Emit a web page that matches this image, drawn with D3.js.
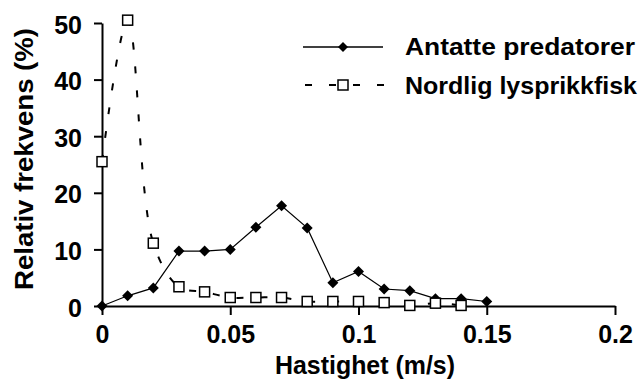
<!DOCTYPE html>
<html>
<head>
<meta charset="utf-8">
<script src="https://cdn.jsdelivr.net/npm/d3@7/dist/d3.min.js"></script>
<style>
  html, body { margin: 0; padding: 0; background: #fff; }
  svg { display: block; }
  text { font-family: "Liberation Sans", Arial, sans-serif; font-weight: bold; fill: #000; }
</style>
</head>
<body>
<svg id="chart" width="639" height="381"></svg>
<script>
// Speed bins (m/s)
const predatorSpeeds = [0, 0.01, 0.02, 0.03, 0.04, 0.05, 0.06, 0.07, 0.08, 0.09, 0.10, 0.11, 0.12, 0.13, 0.14, 0.15];
const fishSpeeds     = [0, 0.01, 0.02, 0.03, 0.04, 0.05, 0.06, 0.07, 0.08, 0.09, 0.10, 0.11, 0.12, 0.13, 0.14];

// Relative frequency (%)
const predatorFreq = [0, 1.8, 3.2, 9.7, 9.7, 10.0, 13.9, 17.7, 13.8, 4.1, 6.1, 3.0, 2.7, 1.3, 1.3, 0.8];
const fishFreq     = [25.5, 50.5, 11.1, 3.4, 2.5, 1.5, 1.5, 1.5, 0.8, 0.8, 0.8, 0.6, 0.1, 0.5, 0.1];

const seriesNames = ["Antatte predatorer", "Nordlig lysprikkfisk"];
const xTicks = [0, 0.05, 0.1, 0.15, 0.2];
const xTickLabels = ["0", "0.05", "0.1", "0.15", "0.2"];
const yTicks = [0, 10, 20, 30, 40, 50];
const xTitle = "Hastighet (m/s)";
const yTitle = "Relativ frekvens (%)";

const svg = d3.select("#chart");

const x = d3.scaleLinear().domain([0, 0.2]).range([102, 615]);
const y = d3.scaleLinear().domain([0, 50]).range([306, 23]);

// Axes
const xAxis = d3.axisBottom(x).tickValues(xTicks).tickFormat((d, i) => xTickLabels[i])
  .tickSize(9).tickSizeOuter(0).tickPadding(10);
const yAxis = d3.axisLeft(y).tickValues(yTicks).tickFormat(d3.format("d"))
  .tickSize(8).tickSizeOuter(0).tickPadding(12);

const gx = svg.append("g").attr("transform", `translate(0,${y(0)})`).call(xAxis);
const gy = svg.append("g").attr("transform", `translate(${x(0)},0)`).call(yAxis);

[gx, gy].forEach(g => {
  g.select(".domain").attr("stroke", "#000").attr("stroke-width", 2);
  g.selectAll(".tick line").attr("stroke", "#000").attr("stroke-width", 2);
  g.selectAll(".tick text")
    .style("font-family", '"Liberation Sans", Arial, sans-serif')
    .style("font-weight", "bold")
    .attr("font-size", 25)
    .attr("fill", "#000");
});
gx.selectAll(".tick text").attr("dy", null).attr("y", 37);
gy.selectAll(".tick text").attr("dy", "10");

// Axis titles
svg.append("text")
  .attr("x", 365).attr("y", 374)
  .attr("text-anchor", "middle")
  .attr("font-size", 25)
  .attr("textLength", 180).attr("lengthAdjust", "spacingAndGlyphs")
  .text(xTitle);

svg.append("text")
  .attr("transform", "translate(33,159) rotate(-90)")
  .attr("text-anchor", "middle")
  .attr("font-size", 25)
  .attr("textLength", 262).attr("lengthAdjust", "spacingAndGlyphs")
  .text(yTitle);

const predatorData = predatorSpeeds.map((s, i) => ({ s, v: predatorFreq[i] }));
const fishData = fishSpeeds.map((s, i) => ({ s, v: fishFreq[i] }));

const diamond = r => `M0,${-r}L${r},0L0,${r}L${-r},0Z`;

// Predator series: straight segments with filled diamonds
const straight = d3.line().x(d => x(d.s)).y(d => y(d.v));
svg.append("path")
  .datum(predatorData)
  .attr("d", straight)
  .attr("fill", "none")
  .attr("stroke", "#000")
  .attr("stroke-width", 1.2);

svg.append("g").selectAll("path")
  .data(predatorData)
  .join("path")
  .attr("transform", d => `translate(${x(d.s)},${y(d.v)})`)
  .attr("d", diamond(5.5))
  .attr("fill", "#000");

// Fish series: smoothed dashed line with open squares
const smooth = d3.line().x(d => x(d.s)).y(d => y(d.v)).curve(d3.curveCatmullRom.alpha(0.5));
svg.append("path")
  .datum(fishData)
  .attr("d", smooth)
  .attr("fill", "none")
  .attr("stroke", "#000")
  .attr("stroke-width", 2)
  .attr("stroke-dasharray", "7,17");

svg.append("g").selectAll("rect")
  .data(fishData)
  .join("rect")
  .attr("x", d => x(d.s) - 5)
  .attr("y", d => y(d.v) - 5)
  .attr("width", 10).attr("height", 10)
  .attr("fill", "#fff")
  .attr("stroke", "#000")
  .attr("stroke-width", 1.5);

// Legend
const legend = svg.append("g");
legend.append("line")
  .attr("x1", 303).attr("x2", 383).attr("y1", 47).attr("y2", 47)
  .attr("stroke", "#000").attr("stroke-width", 1.5);
legend.append("path")
  .attr("transform", "translate(343,47)")
  .attr("d", diamond(5))
  .attr("fill", "#000");
legend.append("text")
  .attr("x", 405).attr("y", 55)
  .attr("font-size", 24)
  .attr("textLength", 230).attr("lengthAdjust", "spacingAndGlyphs")
  .text(seriesNames[0]);

legend.append("line")
  .attr("x1", 305).attr("x2", 387).attr("y1", 85).attr("y2", 85)
  .attr("stroke", "#000").attr("stroke-width", 2)
  .attr("stroke-dasharray", "7,17");
legend.append("rect")
  .attr("x", 338).attr("y", 80).attr("width", 10).attr("height", 10)
  .attr("fill", "#fff").attr("stroke", "#000").attr("stroke-width", 1.5);
legend.append("text")
  .attr("x", 405).attr("y", 94)
  .attr("font-size", 24)
  .attr("textLength", 232).attr("lengthAdjust", "spacingAndGlyphs")
  .text(seriesNames[1]);
</script>
</body>
</html>
